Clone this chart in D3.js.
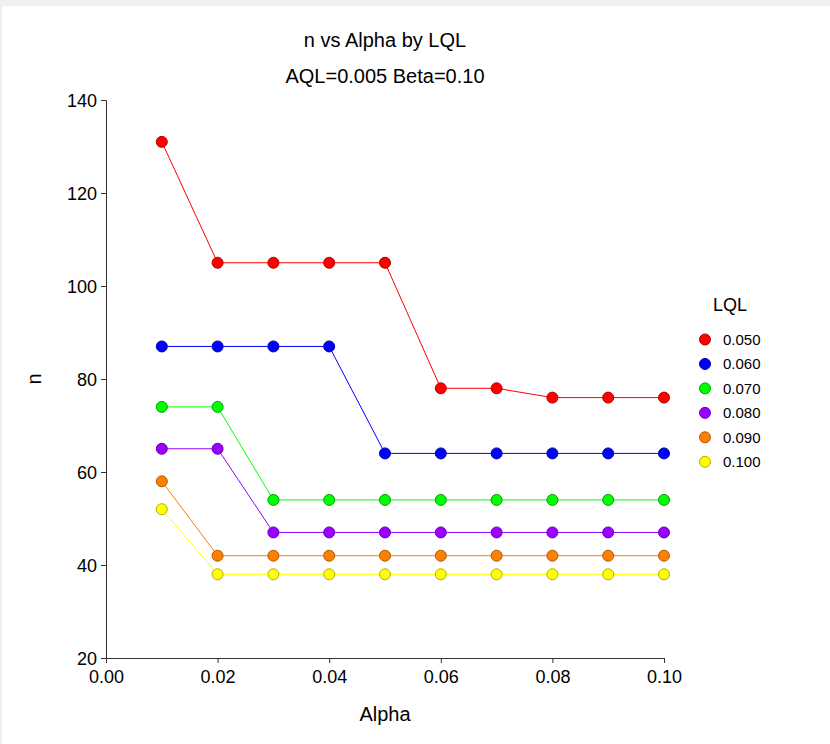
<!DOCTYPE html>
<html><head><meta charset="utf-8">
<script src="https://cdn.jsdelivr.net/npm/d3@7"></script>
<style>
html,body{margin:0;padding:0;background:#fff;}
svg{display:block;font-family:Arial,"Liberation Sans",sans-serif;}
</style></head>
<body>
<script>
const alphas = [0.01,0.02,0.03,0.04,0.05,0.06,0.07,0.08,0.09,0.10];
const lqlLabels = ["0.050","0.060","0.070","0.080","0.090","0.100"];
const n050 = [131,105,105,105,105,78,78,76,76,76];
const n060 = [87,87,87,87,64,64,64,64,64,64];
const n070 = [74,74,54,54,54,54,54,54,54,54];
const n080 = [65,65,47,47,47,47,47,47,47,47];
const n090 = [58,42,42,42,42,42,42,42,42,42];
const n100 = [52,38,38,38,38,38,38,38,38,38];
const seriesValues = [n050,n060,n070,n080,n090,n100];
const xTicks = [0,0.02,0.04,0.06,0.08,0.10];
const yTicks = [20,40,60,80,100,120,140];
const colors = ["#ff0000","#0000ff","#00ff00","#9900ff","#ff8000","#ffff00"];
const strokes = ["#b00000","#0000a0","#00a000","#6a00b0","#b05800","#b0b000"];

const W=830,H=744;
const svg=d3.select("body").append("svg").attr("width",W).attr("height",H);
svg.append("rect").attr("x",0).attr("y",0).attr("width",W).attr("height",6).attr("fill","#f0f0f0");
svg.append("rect").attr("x",0).attr("y",0).attr("width",2).attr("height",H).attr("fill","#f0f0f0");

const x=d3.scaleLinear().domain([0,0.10]).range([106,664]);
const y=d3.scaleLinear().domain([20,140]).range([658,100]);

const xa=svg.append("g").attr("transform","translate(0,658)")
  .call(d3.axisBottom(x).tickValues(xTicks).tickFormat(d3.format(".2f")).tickSizeOuter(0).tickSize(5));
const ya=svg.append("g").attr("transform","translate(106,0)")
  .call(d3.axisLeft(y).tickValues(yTicks).tickFormat(d3.format("d")).tickSizeOuter(0).tickSize(5));
[xa,ya].forEach(a=>{
  a.selectAll("path,line").attr("stroke","#333").attr("stroke-width",1);
  a.selectAll("text").attr("font-size",18).attr("fill","#000").attr("font-family","Arial,'Liberation Sans',sans-serif");
});
xa.selectAll("text").attr("dy","0.95em");
ya.selectAll("text").attr("dy","0.35em").attr("x",-9);

svg.append("text").attr("x",385).attr("y",47).attr("text-anchor","middle").attr("font-size",20).text("n vs Alpha by LQL");
svg.append("text").attr("x",385).attr("y",83).attr("text-anchor","middle").attr("font-size",20).text("AQL=0.005 Beta=0.10");
svg.append("text").attr("x",385).attr("y",721).attr("text-anchor","middle").attr("font-size",20).text("Alpha");
svg.append("text").attr("transform","translate(41,379) rotate(-90)").attr("text-anchor","middle").attr("font-size",20).text("n");

const line=d3.line().x((d,i)=>x(alphas[i])).y(d=>y(d));
seriesValues.forEach((vals,s)=>{
  svg.append("path").datum(vals).attr("d",line).attr("fill","none").attr("stroke",colors[s]).attr("stroke-width",1);
});
seriesValues.forEach((vals,s)=>{
  svg.append("g").selectAll("circle").data(vals).join("circle")
    .attr("cx",(d,i)=>x(alphas[i])).attr("cy",d=>y(d)).attr("r",5.5)
    .attr("fill",colors[s]).attr("stroke",strokes[s]).attr("stroke-width",1);
});

const lg=svg.append("g");
lg.append("text").attr("x",730).attr("y",311).attr("text-anchor","middle").attr("font-size",18).text("LQL");
lqlLabels.forEach((lab,i)=>{
  const yy=339.5+i*24.45;
  lg.append("circle").attr("cx",705).attr("cy",yy).attr("r",5.5).attr("fill",colors[i]).attr("stroke",strokes[i]);
  lg.append("text").attr("x",723).attr("y",yy).attr("dy","0.35em").attr("font-size",15).text(lab);
});
</script>
</body></html>
